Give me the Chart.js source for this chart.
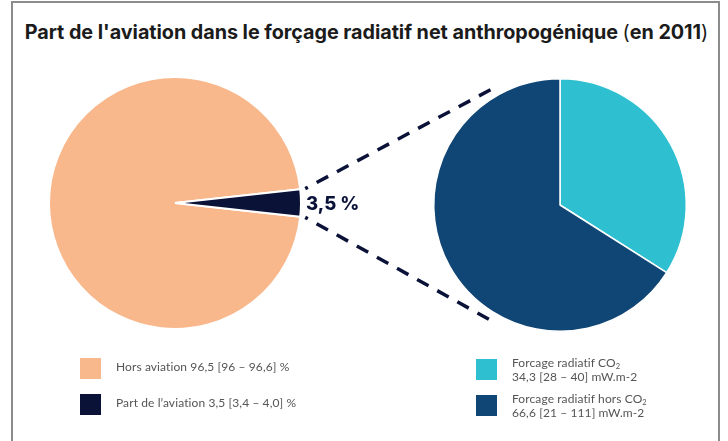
<!DOCTYPE html>
<html><head><meta charset="utf-8">
<script src="https://cdn.jsdelivr.net/npm/chart.js@4"></script>
<style>
body{margin:0;width:728px;height:441px;overflow:hidden;background:#fff;position:relative;font-family:Lato,"Open Sans",sans-serif}
#frame{position:absolute;left:11px;top:1px;width:709px;height:470px;border:2px solid #8c8c8c;border-bottom:none;box-sizing:border-box}
#title{position:absolute;left:11px;width:711px;top:20px;text-align:center;font:700 19.8px Inter,sans-serif;color:#1b1b1b;white-space:nowrap;letter-spacing:-0.05px}
#title span{font-weight:400}
canvas{position:absolute;left:0;top:0}
.sw{position:absolute;width:21px;height:21px}
.lt{position:absolute;font-size:12px;color:#555;line-height:13.5px;white-space:nowrap;letter-spacing:0.1px}
.lt sub{font-size:7.5px;vertical-align:-2px;line-height:0}
</style></head>
<body>
<div id="frame"></div>
<div id="title">Part de l'aviation dans le forçage radiatif net anthropogénique <span>(</span>en 2011<span>)</span></div>
<canvas id="cA" width="728" height="441"></canvas>
<canvas id="cB" width="728" height="441"></canvas>
<div id="legend"></div>
<script>
const leftLabels = ['Hors aviation', "Part de l'aviation"];
const leftValues = [96.5, 3.5];
const leftLegend = ['Hors aviation 96,5 [96 – 96,6] %', 'Part de l’aviation 3,5 [3,4 – 4,0] %'];
const leftColors = ['#F9B78C', '#0A1238'];
const rightLabels = ['Forcage radiatif CO2', 'Forcage radiatif hors CO2'];
const rightValues = [34.3, 66.6];
const rightLegend = [['Forcage radiatif CO<sub>2</sub>', '34,3 [28 – 40] mW.m-2'], ['Forcage radiatif hors CO<sub>2</sub>', '66,6 [21 – 111] mW.m-2']];
const rightColors = ['#2EBFD1', '#104675'];
const zoomLabel = '3,5 %';

const leftTotal = leftValues.reduce((a, b) => a + b, 0);
const leftRotation = 90 - 360 * (leftValues[0] + leftValues[1] / 2) / leftTotal;

const labelPlugin = {
  id: 'zoomLabel',
  afterDraw(chart) {
    const arc = chart.getDatasetMeta(0).data[1];
    const p = arc.getProps(['x', 'y', 'outerRadius'], true);
    const ctx = chart.ctx;
    ctx.save();
    ctx.font = '800 18.5px Inter, sans-serif';
    ctx.fillStyle = '#0A1238';
    ctx.textAlign = 'left';
    ctx.textBaseline = 'middle';
    ctx.fillText(zoomLabel, p.x + p.outerRadius + 5, p.y + 1);
    ctx.restore();
  }
};

const chartA = new Chart(document.getElementById('cA'), {
  type: 'pie',
  data: { labels: leftLabels, datasets: [{ data: leftValues, backgroundColor: leftColors, borderColor: '#fff', borderWidth: 2 }] },
  options: {
    responsive: false, animation: false, events: [],
    rotation: leftRotation,
    layout: { padding: { left: 48, right: 426, top: 76, bottom: 111 } },
    plugins: { legend: { display: false }, tooltip: { enabled: false } }
  },
  plugins: [labelPlugin]
});

const linesPlugin = {
  id: 'zoomLines',
  afterDraw(chart) {
    const a = chartA.getDatasetMeta(0).data[1].getProps(['x', 'y', 'startAngle', 'endAngle', 'outerRadius'], true);
    const b = chart.getDatasetMeta(0).data[0].getProps(['x', 'y', 'outerRadius'], true);
    const ctx = chart.ctx;
    const rA = a.outerRadius + 5, rB = b.outerRadius * 1.065;
    const pairs = [
      [a.startAngle, -2 * Math.PI / 3],
      [a.endAngle, 2 * Math.PI / 3]
    ];
    ctx.save();
    ctx.strokeStyle = '#0A1238';
    ctx.lineWidth = 3.5;
    ctx.setLineDash([13, 10]);
    ctx.lineDashOffset = 10;
    pairs.forEach(([angA, angB]) => {
      ctx.beginPath();
      ctx.moveTo(a.x + rA * Math.cos(angA), a.y + rA * Math.sin(angA));
      ctx.lineTo(b.x + rB * Math.cos(angB), b.y + rB * Math.sin(angB));
      ctx.stroke();
    });
    ctx.restore();
  }
};

const chartB = new Chart(document.getElementById('cB'), {
  type: 'pie',
  data: { labels: rightLabels, datasets: [{ data: rightValues, backgroundColor: rightColors, borderColor: '#fff', borderWidth: 1.5 }] },
  options: {
    responsive: false, animation: false, events: [],
    layout: { padding: { left: 433, right: 41, top: 78, bottom: 109 } },
    plugins: { legend: { display: false }, tooltip: { enabled: false } }
  },
  plugins: [linesPlugin]
});

// HTML legend
const lg = document.getElementById('legend');
const leftSwY = [358, 394], leftTxtY = [360, 396];
leftLegend.forEach((t, i) => {
  lg.insertAdjacentHTML('beforeend', `<div class="sw" style="left:80px;top:${leftSwY[i]}px;background:${leftColors[i]}"></div><div class="lt" style="left:116px;top:${leftTxtY[i]}px">${t}</div>`);
});
const rightSwY = [359, 395], rightTxtY = [356, 392];
rightLegend.forEach((t, i) => {
  lg.insertAdjacentHTML('beforeend', `<div class="sw" style="left:476px;top:${rightSwY[i]}px;background:${rightColors[i]}"></div><div class="lt" style="left:512px;top:${rightTxtY[i]}px">${t[0]}<br>${t[1]}</div>`);
});
</script>
</body></html>
